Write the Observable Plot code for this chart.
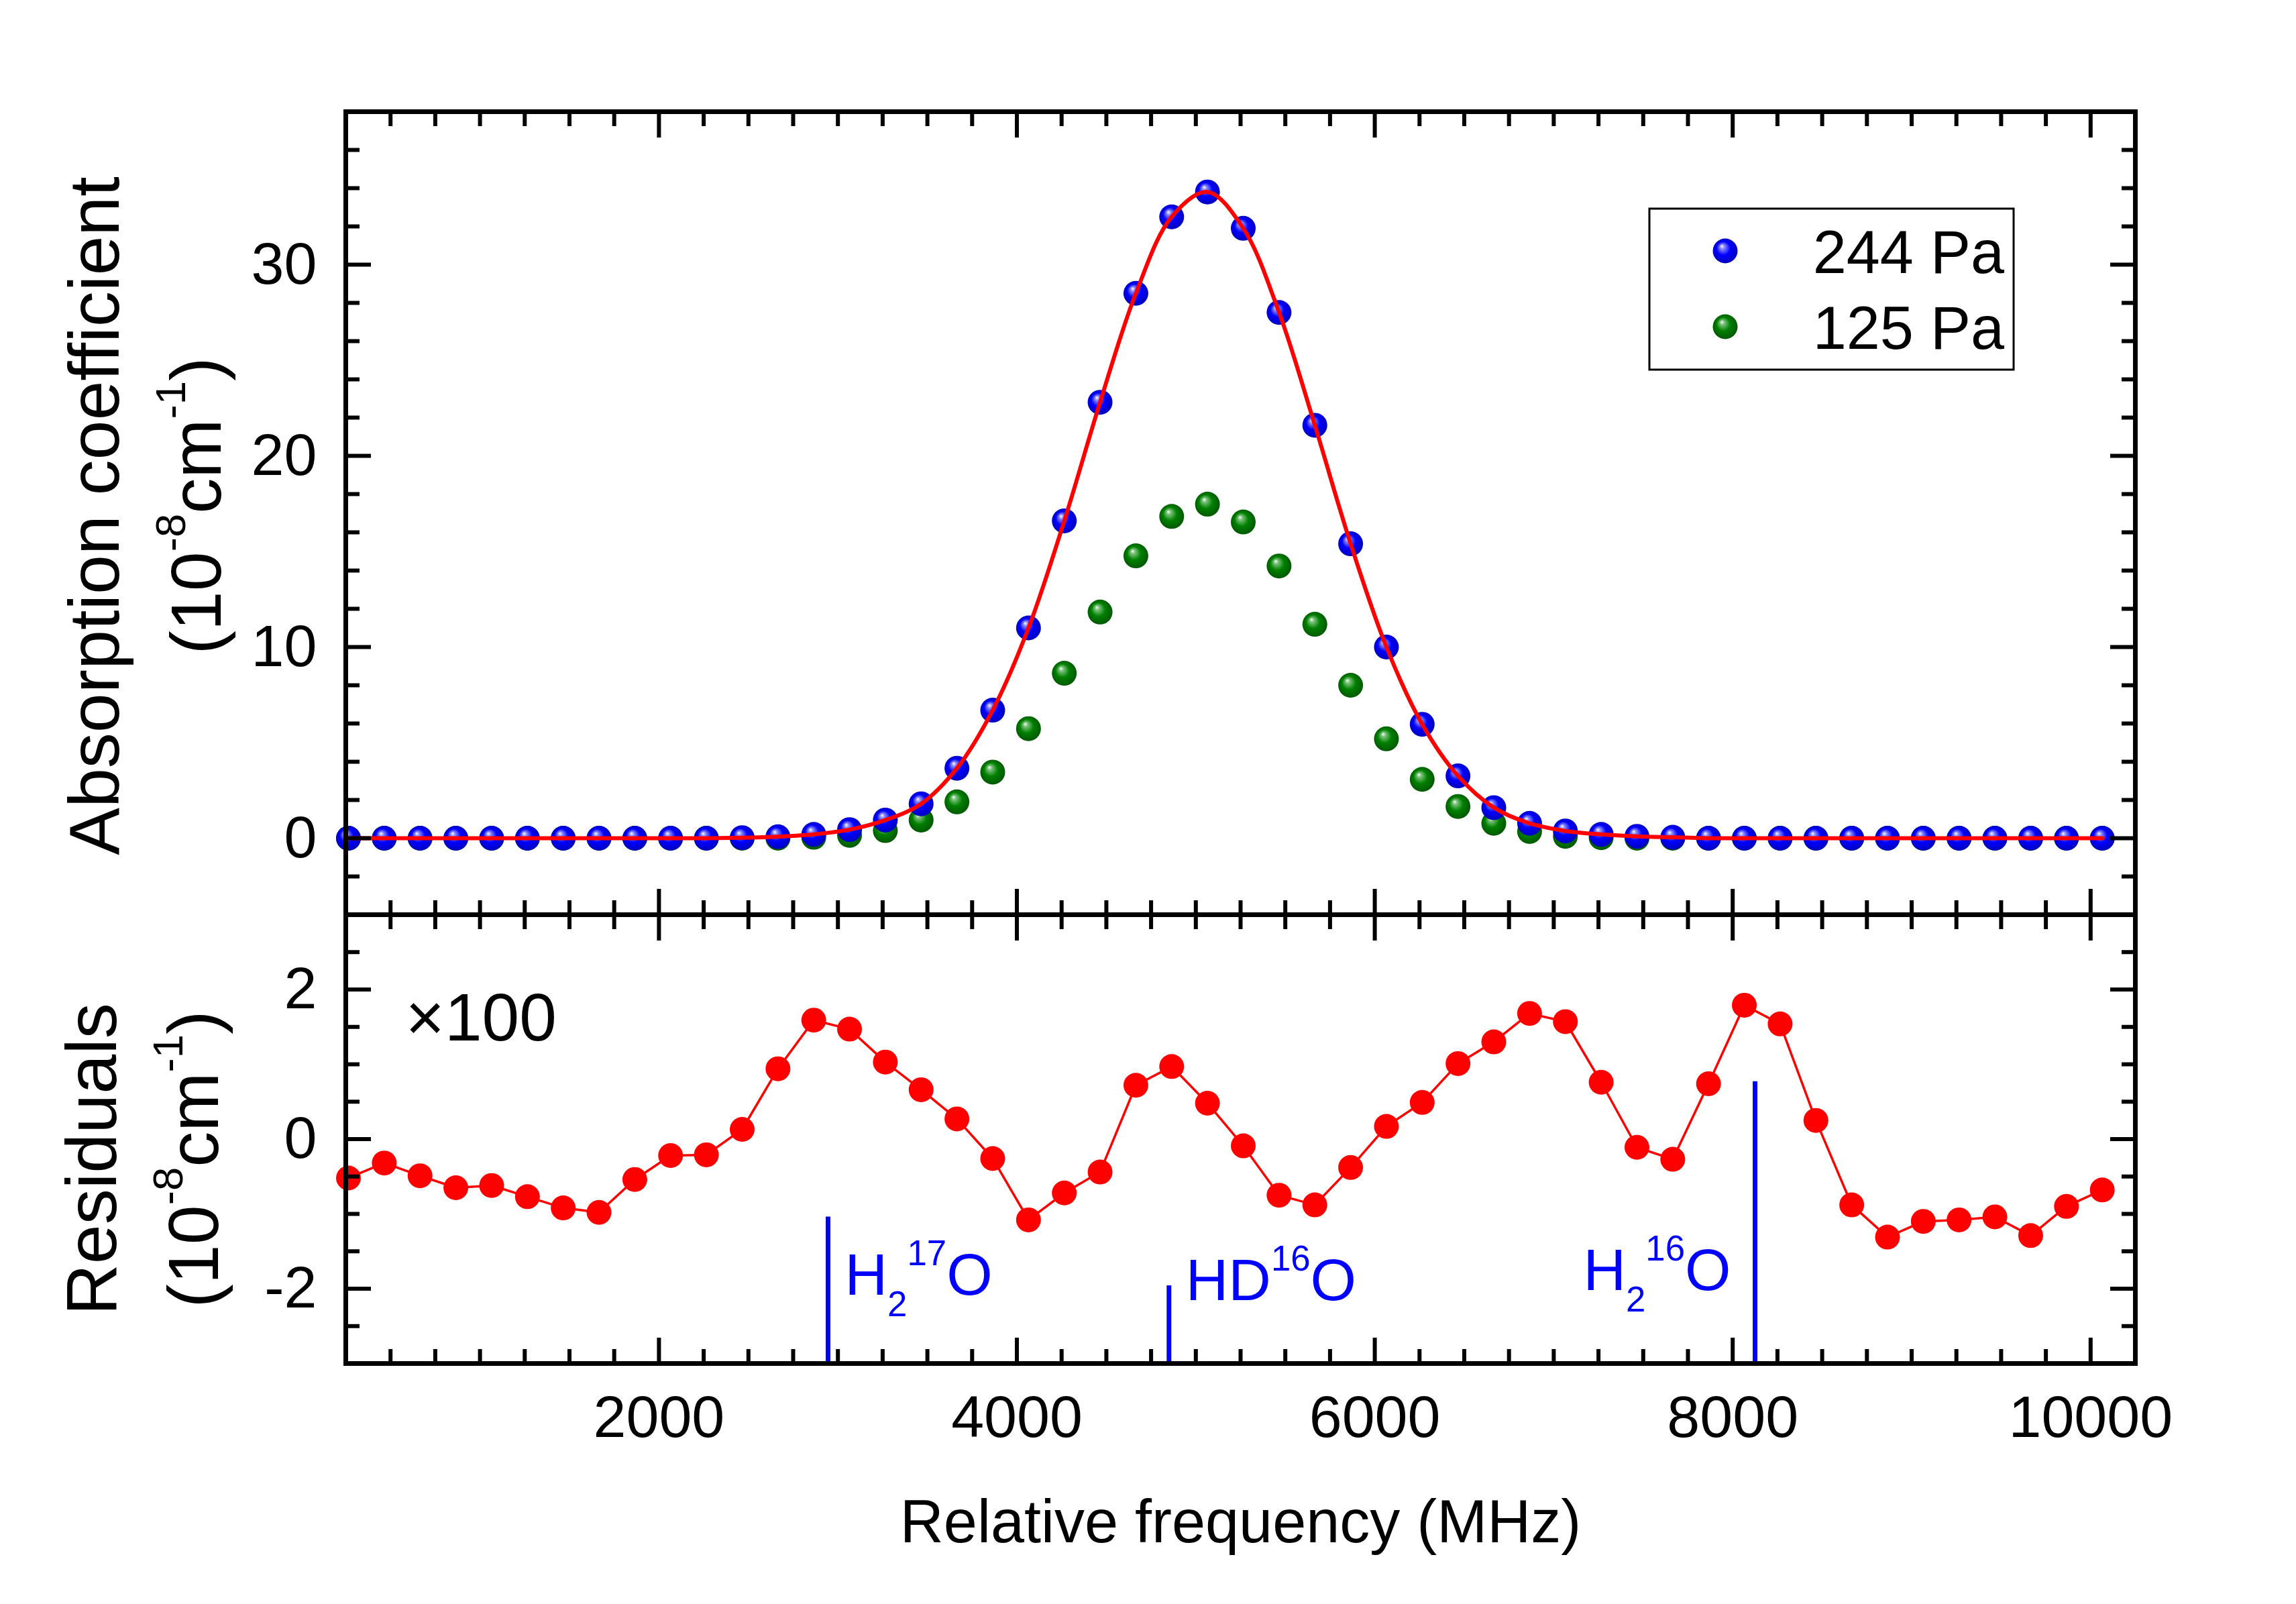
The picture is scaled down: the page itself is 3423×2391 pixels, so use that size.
<!DOCTYPE html>
<html><head><meta charset="utf-8">
<script src="https://cdn.jsdelivr.net/npm/d3@7"></script>
<script src="https://cdn.jsdelivr.net/npm/@observablehq/plot@0.6"></script>
<style>
html,body{margin:0;padding:0;background:#fff;}
#wrap{position:relative;width:3423px;height:2391px;overflow:hidden;background:#fff;}
#wrap svg{position:absolute;left:0;}
</style></head><body><div id="wrap"></div>
<script>
// ---------- data ----------
const freq = [265,465,665,865,1065,1265,1465,1665,1865,2065,2265,2465,2665,2865,3065,3265,3465,3665,3865,4065,4265,4465,4665,4865,5065,5265,5465,5665,5865,6065,6265,6465,6665,6865,7065,7265,7465,7665,7865,8065,8265,8465,8665,8865,9065,9265,9465,9665,9865,10065];
const abs244 = [0,0,0,0,0,0,0,0,0,0,0,0.03,0.08,0.2,0.45,0.95,1.8,3.66,6.7,11.0,16.6,22.8,28.5,32.5,33.8,31.9,27.5,21.6,15.4,10.0,5.96,3.26,1.6,0.78,0.38,0.2,0.1,0.05,0,0,0,0,0,0,0,0,0,0,0,0];
const abs125 = [0,0,0,0,0,0,0,0,0,0,0,0,0,0.05,0.15,0.4,0.95,1.9,3.46,5.73,8.63,11.83,14.77,16.83,17.47,16.54,14.24,11.19,8.0,5.2,3.08,1.66,0.78,0.35,0.1,0.03,0,0,0,0,0,0,0,0,0,0,0,0,0,0];
const residuals = [-0.52,-0.32,-0.49,-0.65,-0.62,-0.77,-0.92,-0.98,-0.54,-0.22,-0.21,0.13,0.94,1.59,1.47,1.03,0.66,0.27,-0.26,-1.08,-0.72,-0.44,0.72,0.97,0.48,-0.09,-0.75,-0.88,-0.38,0.17,0.49,1.01,1.30,1.68,1.57,0.76,-0.11,-0.27,0.74,1.79,1.54,0.25,-0.88,-1.31,-1.10,-1.08,-1.04,-1.29,-0.90,-0.68];
const stickLabels = ["H_{2}^{17}O","HD^{16}O","H_{2}^{16}O"];
const stickFreq = [2945, 4850, 8125];
const stickTop = [-1.04, -1.96, 0.77];
const stickLabelY = [-2.08, -2.15, -2.02];
const stickSide = ["right","right","left"];
const seriesNames = ["244 Pa","125 Pa"];
const xDomain = [250, 10250];
const absDomain = [-4, 38];
const resDomain = [-3, 3];
const xMajor = [2000,4000,6000,8000,10000];
const xMinor = d3.range(500, 10250, 250).filter(v => v % 2000 !== 0);
const absMajor = [0,10,20,30];
const absMinor = [-2,2,4,6,8,12,14,16,18,22,24,26,28,32,34,36];
const resMajor = [-2,0,2];
const resMinor = [-2.5,-1.5,-1,-0.5,0.5,1,1.5,2.5];
const yTitleTop = ["Absorption coefficient","(10^{-8}cm^{-1})"];
const yTitleBottom = ["Residuals","(10^{-8}cm^{-1})"];
const xTitle = "Relative frequency (MHz)";
const scaleNote = "×100";

// ---------- tables ----------
const rows = freq.map((f,i) => ({f, a244: abs244[i], a125: abs125[i], res: residuals[i]}));
const sticks = stickLabels.map((label,i) => ({label, freq: stickFreq[i], top: stickTop[i], ly: stickLabelY[i], side: stickSide[i]}));

const W = 3423;
const FONT = "'Liberation Sans', Arial, Helvetica, sans-serif";
const common = {width: W, marginLeft: 515, marginRight: 240,
  style: {fontFamily: FONT, background: "transparent", overflow: "visible"}};

function tickAxes(axisFn, anchors, major, minor) {
  const out = [];
  for (const anchor of anchors) {
    out.push(axisFn({anchor, ticks: major, tickSize: -38, strokeWidth: 6, fill: "none", label: null, tickFormat: () => ""}));
    out.push(axisFn({anchor, ticks: minor, tickSize: -21, strokeWidth: 6, fill: "none", label: null, tickFormat: () => ""}));
  }
  return out;
}
const fmt = d => String(d);

const topPlot = Plot.plot({
  ...common, height: 1383, marginTop: 166, marginBottom: 20,
  x: {domain: xDomain}, y: {domain: absDomain},
  marks: [
    Plot.dot(rows, {x: "f", y: "a125", r: 18.5, fill: "url(#sphGreen)"}),
    Plot.dot(rows, {x: "f", y: "a244", r: 18.5, fill: "url(#sphBlue)"}),
    Plot.line(rows, {x: "f", y: "a244", curve: "catmull-rom", stroke: "#ff0000", strokeWidth: 6}),
    ...tickAxes(Plot.axisX, ["top","bottom"], xMajor, xMinor),
    ...tickAxes(Plot.axisY, ["left","right"], absMajor, absMinor),
    Plot.axisY({anchor: "left", ticks: absMajor, tickSize: 0, tickPadding: 43, fontSize: 88, tickFormat: fmt, label: null}),
    Plot.frame({strokeWidth: 7}),
    Plot.text([yTitleTop[0]], {text: d => d, frameAnchor: "left", textAnchor: "middle", rotate: -90, dx: -372, dy: 4, fontSize: 106}),
    Plot.text([yTitleTop[1]], {text: d => d, frameAnchor: "left", textAnchor: "middle", rotate: -90, dx: -220, dy: -11, fontSize: 106})
  ]
});

const bottomPlot = Plot.plot({
  ...common, height: 1048, marginTop: 20, marginBottom: 359,
  x: {domain: xDomain}, y: {domain: resDomain},
  marks: [
    Plot.ruleX(sticks, {x: "freq", y1: () => resDomain[0], y2: "top", stroke: "#0000ff", strokeWidth: 7}),
    Plot.line(rows, {x: "f", y: "res", stroke: "#ff0000", strokeWidth: 3.5}),
    Plot.dot(rows, {x: "f", y: "res", r: 18.5, fill: "#ff0000"}),
    Plot.text(sticks.filter(d => d.side === "right"), {x: "freq", y: "ly", text: "label", textAnchor: "start", lineAnchor: "bottom", dx: 25, fontSize: 88, fill: "#0000ff"}),
    Plot.text(sticks.filter(d => d.side === "left"), {x: "freq", y: "ly", text: "label", textAnchor: "end", lineAnchor: "bottom", dx: -36, fontSize: 88, fill: "#0000ff"}),
    ...tickAxes(Plot.axisX, ["top","bottom"], xMajor, xMinor),
    ...tickAxes(Plot.axisY, ["left","right"], resMajor, resMinor),
    Plot.axisY({anchor: "left", ticks: resMajor, tickSize: 0, tickPadding: 43, fontSize: 88, tickFormat: fmt, label: null}),
    Plot.axisX({anchor: "bottom", ticks: xMajor, tickSize: 0, tickPadding: 47, fontSize: 88, tickFormat: fmt, label: null}),
    Plot.frame({strokeWidth: 7}),
    Plot.text([scaleNote], {text: d => d, frameAnchor: "top-left", dx: 89, dy: 187, textAnchor: "start", lineAnchor: "bottom", fontSize: 100}),
    Plot.text([yTitleBottom[0]], {text: d => d, frameAnchor: "left", textAnchor: "middle", rotate: -90, dx: -376, dy: 30, fontSize: 106}),
    Plot.text([yTitleBottom[1]], {text: d => d, frameAnchor: "left", textAnchor: "middle", rotate: -90, dx: -224, dy: 30, fontSize: 106}),
    Plot.text([xTitle], {text: d => d, frameAnchor: "bottom", textAnchor: "middle", dy: 266, lineAnchor: "bottom", fontSize: 90})
  ]
});

const wrap = document.getElementById("wrap");
topPlot.style.top = "0px";
bottomPlot.style.top = "1343px";
wrap.appendChild(topPlot);
wrap.appendChild(bottomPlot);

// gradients for shaded spheres
function addDefs(svg) {
  const defs = d3.select(svg).insert("defs", ":first-child");
  [["sphBlue", "#ffffff", "#8c8cff", "#0000ff", "#0000b4"], ["sphGreen", "#ffffff", "#7cc27c", "#008000", "#005200"]].forEach(([id, c0, c1, c2, c3]) => {
    const g = defs.append("radialGradient").attr("id", id).attr("cx", "0.5").attr("cy", "0.5").attr("r", "0.55").attr("fx", "0.36").attr("fy", "0.3");
    g.append("stop").attr("offset", "0").attr("stop-color", c0);
    g.append("stop").attr("offset", "0.16").attr("stop-color", c1);
    g.append("stop").attr("offset", "0.5").attr("stop-color", c2);
    g.append("stop").attr("offset", "1").attr("stop-color", c3);
  });
}
addDefs(topPlot);

// legend
(function legend() {
  const s = d3.select(topPlot);
  const g = s.append("g").attr("font-family", FONT);
  g.append("rect").attr("x", 2459).attr("y", 311).attr("width", 543).attr("height", 240)
    .attr("fill", "white").attr("stroke", "black").attr("stroke-width", 3);
  const fills = ["url(#sphBlue)", "url(#sphGreen)"];
  seriesNames.forEach((name, i) => {
    const cy = 374 + i * 113;
    g.append("circle").attr("cx", 2572).attr("cy", cy).attr("r", 18.5).attr("fill", fills[i]);
    g.append("text").attr("x", 2988).attr("y", cy + 33).attr("text-anchor", "end")
      .attr("font-size", 90).attr("fill", "black").text(name);
  });
})();

// rich text: ^{sup} and _{sub}
function richify(svg) {
  const NS = "http://www.w3.org/2000/svg";
  d3.select(svg).selectAll("text").each(function() {
    const s = this.textContent;
    if (!/[\^_]\{/.test(s)) return;
    const F = parseFloat(getComputedStyle(this).fontSize);
    const re = /([\^_])\{([^}]*)\}|([^\^_]+)/g;
    const segs = [];
    let m;
    while ((m = re.exec(s))) {
      if (m[3] !== undefined) segs.push({t: m[3], type: "n"});
      else segs.push({t: m[2], type: m[1] === "^" ? "sup" : "sub"});
    }
    this.textContent = "";
    let cur = 0;
    for (const seg of segs) {
      const ts = document.createElementNS(NS, "tspan");
      let target = 0;
      if (seg.type === "sup") { target = -0.5 * F; ts.setAttribute("font-size", 0.6 * F); }
      else if (seg.type === "sub") { target = 0.36 * F; ts.setAttribute("font-size", 0.6 * F); }
      if (target !== cur) ts.setAttribute("dy", target - cur);
      cur = target;
      ts.textContent = seg.t;
      this.appendChild(ts);
    }
  });
}
richify(topPlot);
richify(bottomPlot);
</script></body></html>
